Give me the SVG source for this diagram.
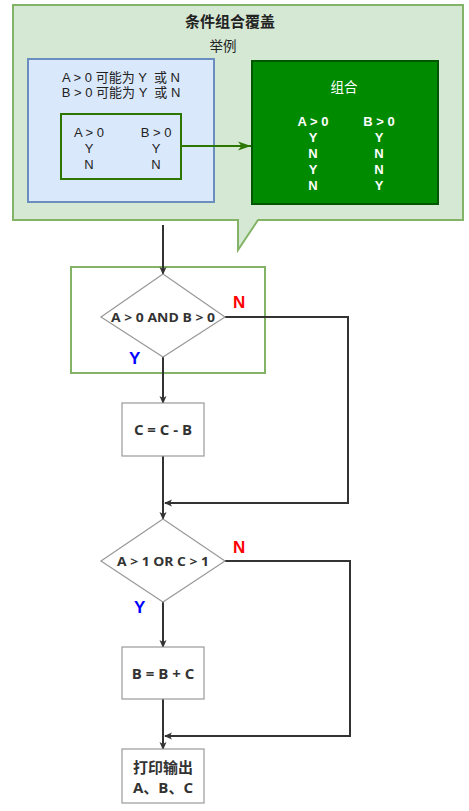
<svg xmlns="http://www.w3.org/2000/svg" width="469" height="811" viewBox="0 0 469 811">
<style>
.cj{font-family:"Liberation Sans","Noto Sans CJK SC",sans-serif;}
.fc{font-family:"Open Sans","Noto Sans CJK SC",sans-serif;font-weight:bold;fill:#333;text-anchor:middle;}
.box{fill:#fff;stroke:#999;stroke-width:1.2;}
.con{fill:none;stroke:#333;stroke-width:2;}
.lblN{font-family:"Liberation Sans",sans-serif;font-weight:bold;font-size:17px;fill:#ff0000;}
.lblY{font-family:"Liberation Sans",sans-serif;font-weight:bold;font-size:17px;fill:#0000ff;}
.w{font-family:"Liberation Sans","Noto Sans CJK SC",sans-serif;font-weight:bold;font-size:13px;fill:#fff;text-anchor:middle;}
.t{font-size:13px;fill:#222;text-anchor:middle;}
</style>
<defs>
<marker id="ah" markerWidth="8" markerHeight="8" refX="7" refY="4" orient="auto" markerUnits="userSpaceOnUse">
<path d="M0,0.5 L8,4 L0,7.5 L2,4 Z" fill="#333"/>
</marker>
<marker id="ahg" markerWidth="14" markerHeight="10" refX="13" refY="5" orient="auto" markerUnits="userSpaceOnUse">
<path d="M0,0.5 L13,5 L0,9.5 L3.5,5 Z" fill="#2D7600"/>
</marker>
</defs>

<g id="callout">
<path d="M13,5 H463 V220 H258 L238,250 V220 H13 Z" fill="#d5e8d4" stroke="#82b366" stroke-width="2"/>
<text class="cj" x="230" y="27" font-size="15" font-weight="bold" fill="#222" text-anchor="middle">条件组合覆盖</text>
<text class="cj" x="223" y="51" font-size="13.5" fill="#222" text-anchor="middle">举例</text>
</g>

<g id="example">
<rect x="28" y="59" width="186" height="143" fill="#dae8fc" stroke="#6c8ebf" stroke-width="2"/>
<text class="cj t" x="121" y="82" xml:space="preserve">A &gt; 0 可能为 Y  或 N</text>
<text class="cj t" x="121" y="97" xml:space="preserve">B &gt; 0 可能为 Y  或 N</text>
</g>

<g id="pairs">
<rect x="61" y="114" width="120" height="65" fill="none" stroke="#2D7600" stroke-width="2"/>
<text class="cj t" x="89" y="137">A &gt; 0</text>
<text class="cj t" x="156" y="137">B &gt; 0</text>
<text class="cj t" x="89" y="153">Y</text>
<text class="cj t" x="156" y="153">Y</text>
<text class="cj t" x="89" y="169">N</text>
<text class="cj t" x="156" y="169">N</text>
</g>

<g id="combo">
<rect x="252" y="61" width="186" height="143" fill="#008a00" stroke="#005700" stroke-width="2"/>
<text class="cj" x="344" y="92" font-size="13.5" fill="#fff" text-anchor="middle">组合</text>
<text class="w" x="313" y="126">A &gt; 0</text>
<text class="w" x="379" y="126">B &gt; 0</text>
<text class="w" x="313" y="142">Y</text>
<text class="w" x="379" y="142">Y</text>
<text class="w" x="313" y="158">N</text>
<text class="w" x="379" y="158">N</text>
<text class="w" x="313" y="174">Y</text>
<text class="w" x="379" y="174">N</text>
<text class="w" x="313" y="190">N</text>
<text class="w" x="379" y="190">Y</text>
</g>

<g id="highlight">
<rect x="71" y="267" width="194" height="106" fill="none" stroke="#82b366" stroke-width="2"/>
</g>

<g id="connectors">
<line x1="181" y1="146" x2="251" y2="146" stroke="#2D7600" stroke-width="2" marker-end="url(#ahg)"/>
<line class="con" x1="163" y1="225" x2="163" y2="274" marker-end="url(#ah)"/>
<line class="con" x1="163" y1="357" x2="163" y2="403" marker-end="url(#ah)"/>
<polyline class="con" points="225,317 348,317 348,503 165,503" marker-end="url(#ah)"/>
<line class="con" x1="163" y1="456" x2="163" y2="519" marker-end="url(#ah)"/>
<line class="con" x1="163" y1="602" x2="163" y2="647" marker-end="url(#ah)"/>
<polyline class="con" points="225,561 350,561 350,736 165,736" marker-end="url(#ah)"/>
<line class="con" x1="163" y1="699" x2="163" y2="749" marker-end="url(#ah)"/>
</g>

<g id="cond1">
<path class="box" d="M163,274 L225,317 L163,357 L101,317 Z"/>
<text class="fc" x="163" y="322" font-size="13" textLength="104" lengthAdjust="spacingAndGlyphs">A &gt; 0 AND B &gt; 0</text>
<text class="lblN" x="233" y="308">N</text>
<text class="lblY" x="129" y="364">Y</text>
</g>

<g id="step1">
<rect class="box" x="122" y="403" width="82" height="53"/>
<text class="fc" x="163" y="435" font-size="15">C = C - B</text>
</g>

<g id="cond2">
<path class="box" d="M163,519 L225,561 L163,602 L101,561 Z"/>
<text class="fc" x="163" y="566" font-size="13" textLength="92" lengthAdjust="spacingAndGlyphs">A &gt; 1 OR C &gt; 1</text>
<text class="lblN" x="233" y="553">N</text>
<text class="lblY" x="134" y="613">Y</text>
</g>

<g id="step2">
<rect class="box" x="122" y="647" width="82" height="52"/>
<text class="fc" x="163" y="679" font-size="15">B = B + C</text>
</g>

<g id="output">
<rect class="box" x="122" y="749" width="82" height="54"/>
<text class="fc" x="163" y="773" font-size="15">打印输出</text>
<text class="fc" x="163" y="793" font-size="15">A、B、C</text>
</g>
</svg>
